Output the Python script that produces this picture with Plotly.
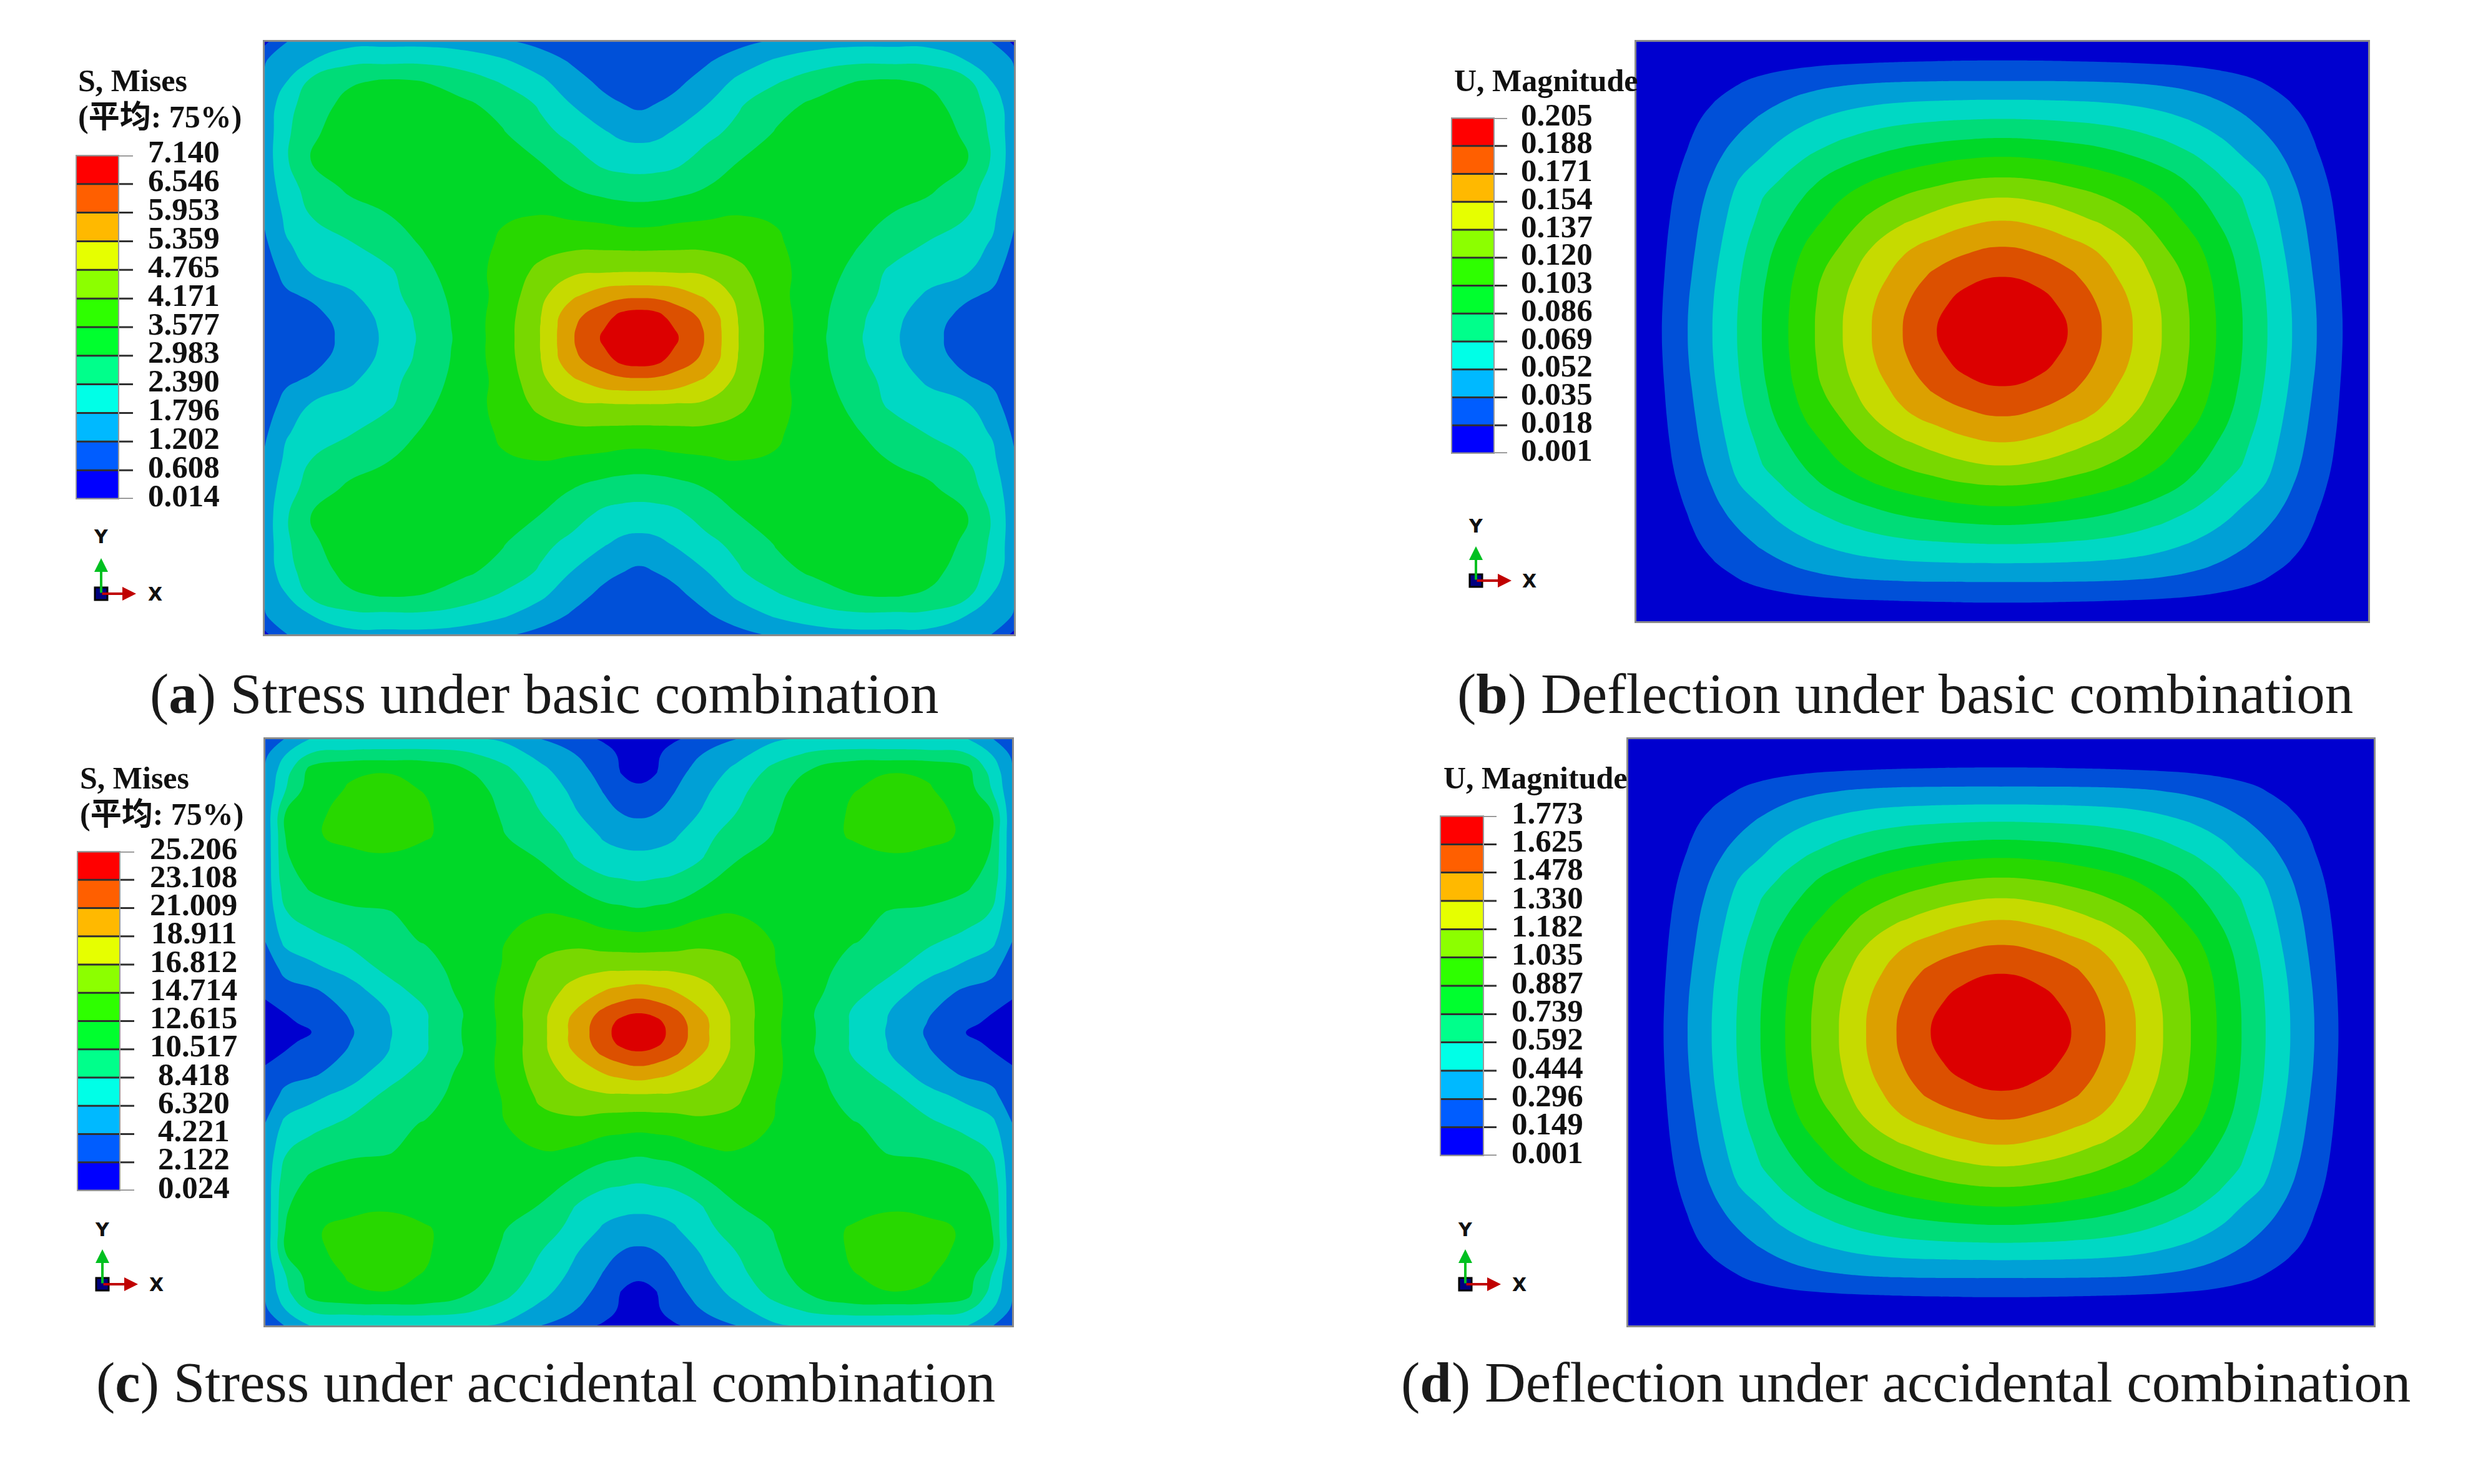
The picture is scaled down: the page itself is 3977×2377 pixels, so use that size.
import numpy as np
import plotly.graph_objects as go

W, H = 3977, 2377

# legend levels (top to bottom in the picture, stored low to high)
A_LEVELS = [0.014, 0.608, 1.202, 1.796, 2.390, 2.983, 3.577, 4.171, 4.765, 5.359, 5.953, 6.546, 7.140]
B_LEVELS = [0.001, 0.018, 0.035, 0.052, 0.069, 0.086, 0.103, 0.120, 0.137, 0.154, 0.171, 0.188, 0.205]
C_LEVELS = [0.024, 2.122, 4.221, 6.320, 8.418, 10.517, 12.615, 14.714, 16.812, 18.911, 21.009, 23.108, 25.206]
D_LEVELS = [0.001, 0.149, 0.296, 0.444, 0.592, 0.739, 0.887, 1.035, 1.182, 1.330, 1.478, 1.625, 1.773]
A_LABELS = ["0.014","0.608","1.202","1.796","2.390","2.983","3.577","4.171","4.765","5.359","5.953","6.546","7.140"]
B_LABELS = ["0.001","0.018","0.035","0.052","0.069","0.086","0.103","0.120","0.137","0.154","0.171","0.188","0.205"]
C_LABELS = ["0.024","2.122","4.221","6.320","8.418","10.517","12.615","14.714","16.812","18.911","21.009","23.108","25.206"]
D_LABELS = ["0.001","0.149","0.296","0.444","0.592","0.739","0.887","1.035","1.182","1.330","1.478","1.625","1.773"]

LEGEND_COLORS = ["#0000FF","#005DFF","#00B9FF","#00FFE7","#00FF8B","#00FF2E","#2EFF00","#8CFF00","#E6FF00","#FFB900","#FF5F00","#FF0000"]
FIELD_COLORS = ["#0000CF","#0050D8","#00A0D6","#00D8C4","#00DC78","#00D828","#28D800","#78D800","#C6DA00","#DCA000","#DC5000","#DC0000"]

# Field, top-left quarter, in legend band units (0 = lowest label, 12 = highest).
A_XN = [337,370,410,470,530,590,650,710,770,820,870,898,925]
A_YN = [43,90,140,200,270,340,410,480,550,620,680,730,760,787]
A_GRID = [
 [0.80,2.00,2.50,2.70,2.75,2.75,2.60,2.20,1.75,1.55,1.40,1.32,1.30],
 [1.95,2.75,3.00,3.75,3.80,3.80,3.55,3.15,2.50,1.90,1.60,1.56,1.55],
 [2.20,2.95,4.20,4.90,5.10,5.00,4.50,3.90,3.20,2.40,1.75,1.65,1.60],
 [2.40,3.60,4.60,5.30,5.40,5.35,5.20,4.70,3.90,3.00,2.30,2.05,1.85],
 [2.45,3.80,4.90,5.40,5.50,5.50,5.40,5.10,4.30,3.75,3.10,2.80,2.70],
 [2.45,3.90,5.05,5.45,5.55,5.55,5.50,5.40,5.00,4.40,3.75,3.60,3.55],
 [2.45,3.50,4.50,5.20,5.45,5.55,5.65,5.70,5.60,5.05,4.65,4.55,4.50],
 [2.20,3.20,4.05,4.60,5.00,5.40,5.70,5.95,6.05,5.90,5.75,5.60,5.55],
 [1.85,2.95,3.35,3.95,4.60,5.15,5.60,6.15,6.60,6.75,6.75,6.72,6.70],
 [1.60,2.30,3.10,3.50,3.85,4.85,5.55,6.35,7.30,7.85,7.95,8.00,8.00],
 [1.45,1.90,2.15,2.85,3.70,4.60,5.45,6.35,7.80,8.85,9.60,9.75,9.80],
 [1.32,1.50,1.78,2.42,3.40,4.40,5.40,6.50,8.00,9.75,10.60,11.30,11.50],
 [1.30,1.45,1.65,2.30,3.30,4.35,5.38,6.55,8.05,9.90,11.00,11.55,11.85],
 [1.30,1.42,1.60,2.30,3.25,4.30,5.35,6.55,8.05,9.95,11.20,11.75,12.30],
]
C_XN = [338,370,410,470,530,590,650,710,770,820,870,898,925]
C_YN = [22,60,100,150,210,270,330,400,470,540,610,670,725,750,775]
C_GRID = [
 [1.30,2.10,3.10,3.30,3.35,3.35,3.25,2.90,2.05,1.50,0.90,0.70,0.60],
 [1.85,3.00,4.10,4.30,4.35,4.35,4.20,3.65,2.70,2.10,1.45,0.85,0.75],
 [2.15,3.60,5.35,5.90,6.00,5.85,5.10,4.30,3.30,2.40,1.70,0.95,0.85],
 [2.25,4.00,5.60,6.10,6.15,6.00,5.50,4.75,3.70,2.85,1.95,1.30,1.10],
 [2.30,5.05,5.90,6.20,6.25,6.10,5.65,4.95,4.05,3.20,2.35,2.00,1.85],
 [2.30,5.05,5.95,6.20,6.25,6.10,5.70,5.10,4.50,3.80,2.90,2.65,2.55],
 [2.30,4.95,5.40,5.85,5.95,5.75,5.65,5.45,5.00,4.10,3.50,3.35,3.30],
 [2.35,4.60,5.15,5.45,5.55,5.60,5.65,5.70,5.55,5.05,4.40,4.30,4.20],
 [2.30,3.95,4.55,4.85,4.95,5.40,5.70,5.95,6.00,5.90,5.50,5.35,5.25],
 [2.05,3.30,3.65,4.25,4.75,5.10,5.65,5.95,6.70,6.75,6.50,6.45,6.40],
 [1.55,2.30,2.80,3.40,4.30,4.65,5.45,6.05,7.20,7.70,7.85,7.85,7.85],
 [1.20,1.70,1.85,2.55,3.55,4.45,5.25,6.20,7.55,8.30,9.05,9.35,9.55],
 [0.75,1.05,1.50,2.10,3.00,3.95,5.05,6.25,7.70,9.00,10.30,10.80,11.00],
 [0.68,0.90,1.20,2.00,2.95,3.95,5.08,6.20,7.70,9.20,10.60,11.30,11.70],
 [0.60,0.80,1.00,1.90,2.90,3.95,5.10,6.20,7.70,9.20,10.70,11.45,12.30],
]
B_XN = [325,365,407,447,487,527,570,613,658,705,755,810,860,918]
B_YN = [43,88,140,187,235,283,330,382,432,490,555,630,700,770]
B_GRID = [
 [0,0,0,0,0,0,0,0,0,0,0,0,0,0],
 [0,0.10,0.20,0.30,0.41,0.52,0.63,0.73,0.81,0.87,0.92,0.96,0.99,1.00],
 [0,0.21,0.42,0.66,0.92,1.19,1.44,1.65,1.80,1.90,1.96,1.99,2.00,2.00],
 [0,0.30,0.62,0.95,1.31,1.67,2.02,2.33,2.58,2.76,2.88,2.95,2.99,3.00],
 [0,0.39,0.78,1.22,1.68,2.13,2.57,2.96,3.28,3.55,3.75,3.88,3.96,4.00],
 [0,0.48,0.93,1.47,2.05,2.62,3.10,3.55,3.96,4.30,4.58,4.78,4.92,5.00],
 [0,0.55,1.08,1.74,2.45,3.00,3.65,4.15,4.62,5.03,5.40,5.70,5.90,6.00],
 [0,0.62,1.25,2.03,2.92,3.50,4.15,4.82,5.38,5.88,6.28,6.62,6.88,7.00],
 [0,0.69,1.42,2.27,3.20,3.97,4.62,5.30,5.98,6.55,7.05,7.48,7.82,8.00],
 [0,0.76,1.57,2.47,3.42,4.22,5.02,5.80,6.52,7.25,7.85,8.38,8.78,9.00],
 [0,0.84,1.70,2.65,3.64,4.55,5.50,6.35,7.08,7.98,8.80,9.32,9.75,10.00],
 [0,0.91,1.84,2.84,3.84,4.82,5.80,6.78,7.65,8.55,9.40,10.25,10.78,11.00],
 [0,0.97,1.96,2.96,3.96,4.96,5.95,6.95,7.92,8.90,9.85,10.78,11.38,11.75],
 [0,1.00,2.00,3.00,4.00,5.00,6.00,7.00,8.00,9.00,10.00,11.00,11.80,12.30],
]
D_XN = [332,388,427,466,506,545,585,627,672,716,765,820,875,936]
D_YN = [22,93,142,188,232,278,325,375,428,483,547,620,695,773]
D_GRID = [
 [0,0,0,0,0,0,0,0,0,0,0,0,0,0],
 [0,0.10,0.20,0.30,0.41,0.52,0.63,0.73,0.81,0.87,0.92,0.96,0.99,1.00],
 [0,0.21,0.42,0.66,0.92,1.19,1.44,1.65,1.80,1.90,1.96,1.99,2.00,2.00],
 [0,0.30,0.62,0.95,1.31,1.67,2.02,2.33,2.58,2.76,2.88,2.95,2.99,3.00],
 [0,0.39,0.78,1.22,1.68,2.13,2.57,2.96,3.28,3.55,3.75,3.88,3.96,4.00],
 [0,0.48,0.93,1.47,2.05,2.62,3.10,3.55,3.96,4.30,4.58,4.78,4.92,5.00],
 [0,0.55,1.08,1.74,2.45,3.00,3.65,4.15,4.62,5.03,5.40,5.70,5.90,6.00],
 [0,0.62,1.25,2.03,2.92,3.50,4.15,4.82,5.38,5.88,6.28,6.62,6.88,7.00],
 [0,0.69,1.42,2.27,3.20,3.97,4.62,5.30,5.98,6.55,7.05,7.48,7.82,8.00],
 [0,0.76,1.57,2.47,3.42,4.22,5.02,5.80,6.52,7.25,7.85,8.38,8.78,9.00],
 [0,0.84,1.70,2.65,3.64,4.55,5.50,6.35,7.08,7.98,8.80,9.32,9.75,10.00],
 [0,0.91,1.84,2.84,3.84,4.82,5.80,6.78,7.65,8.55,9.40,10.25,10.78,11.00],
 [0,0.97,1.96,2.96,3.96,4.96,5.95,6.95,7.92,8.90,9.85,10.78,11.38,11.75],
 [0,1.00,2.00,3.00,4.00,5.00,6.00,7.00,8.00,9.00,10.00,11.00,11.80,12.30],
]

CAPTION_A = "(<b>a</b>) Stress under basic combination"
CAPTION_B = "(<b>b</b>) Deflection under basic combination"
CAPTION_C = "(<b>c</b>) Stress under accidental combination"
CAPTION_D = "(<b>d</b>) Deflection under accidental combination"
HEAD_S = ["S, Mises", "(平均: 75%)"]
HEAD_U = ["U, Magnitude"]

SERIF = "Liberation Serif, Noto Sans CJK SC, serif"
SANS = "DejaVu Sans, sans-serif"

def px(x): return x / W
def py(y): return 1 - y / H

def mirror(nodes, grid, levels):
    nodes_x, nodes_y = nodes
    g = np.array(grid, float)
    full = np.hstack([g, g[:, -2::-1]])
    full = np.vstack([full, full[-2::-1, :]])
    xs = np.array(nodes_x, float); ys = np.array(nodes_y, float)
    xf = np.concatenate([xs, 2 * xs[-1] - xs[-2::-1]])
    yf = np.concatenate([ys, 2 * ys[-1] - ys[-2::-1]])
    lo, hi = levels[0], levels[-1]
    return xf, yf, lo + full * (hi - lo) / 12

PANELS = [
 dict(grid=A_GRID, xn=A_XN, yn=A_YN, levels=A_LEVELS, labels=A_LABELS, box=(424,67,1624,1016),
      bar=(122,249,190,799), tick=213, lab=294, head=HEAD_S, headx=123, heady=[129,187],
      triad=(162,951,894,218), ylab=859, xlab=249, cap=CAPTION_A, capx=872, capy=1111),
 dict(grid=B_GRID, xn=B_XN, yn=B_YN, levels=B_LEVELS, labels=B_LABELS, box=(2621,67,3793,995),
      bar=(2325,189,2393,726), tick=2414, lab=2493, head=HEAD_U, headx=2327, heady=[129],
      triad=(2364,930,875,2421), ylab=842, xlab=2449, cap=CAPTION_B, capx=3051, capy=1111),
 dict(grid=C_GRID, xn=C_XN, yn=C_YN, levels=C_LEVELS, labels=C_LABELS, box=(425,1184,1621,2123),
      bar=(124,1364,192,1907), tick=215, lab=310, head=HEAD_S, headx=126, heady=[1246,1304],
      triad=(164,2057,2001,221), ylab=1969, xlab=250, cap=CAPTION_C, capx=874, capy=2214),
 dict(grid=D_GRID, xn=D_XN, yn=D_YN, levels=D_LEVELS, labels=D_LABELS, box=(2608,1184,3802,2123),
      bar=(2307,1307,2376,1851), tick=2397, lab=2478, head=HEAD_U, headx=2310, heady=[1246],
      triad=(2347,2057,2001,2404), ylab=1969, xlab=2433, cap=CAPTION_D, capx=3052, capy=2214),
]

fig = go.Figure()
layout = dict(width=W, height=H, margin=dict(l=0, r=0, t=0, b=0), paper_bgcolor="white",
              plot_bgcolor="white", showlegend=False)
shapes, annos = [], []

def discrete(colors):
    n = len(colors); out = []
    for i, c in enumerate(colors):
        out += [[i / n, c], [(i + 1) / n, c]]
    return out

for i, p in enumerate(PANELS):
    xf, yf, zf = mirror((p["xn"], p["yn"]), p["grid"], p["levels"])
    lv = p["levels"]
    ax1, ax2 = 2 * i + 1, 2 * i + 2
    xa, ya = f"x{ax1}", f"y{ax1}"
    xb, yb = f"x{ax2}", f"y{ax2}"
    x0, y0, x1, y1 = p["box"]
    step = (lv[-1] - lv[0]) / 12
    nudge = 0.03 * step  # keeps contour levels off the grid nodes, which otherwise spike under smoothing
    # the fill colour of a band is looked up at its upper level: centre that on the colour's stop
    fig.add_trace(go.Contour(x=xf, y=yf, z=zf, xaxis=xa, yaxis=ya, showscale=False, hoverinfo="skip",
        autocontour=False, contours=dict(start=lv[0] + nudge, end=lv[-1] + nudge, size=step, coloring="fill", showlines=False),
        line=dict(width=0, smoothing=1.3), zmin=lv[0] + nudge + step / 2, zmax=lv[-1] + nudge + step / 2,
        colorscale=discrete(FIELD_COLORS)))
    layout[f"xaxis{ax1}"] = dict(domain=[px(x0), px(x1)], range=[xf[0], xf[-1]], anchor=ya, showticklabels=False,
        ticks="", showgrid=False, zeroline=False, showline=True, mirror=True, linecolor="#8a8a8a", linewidth=3)
    layout[f"yaxis{ax1}"] = dict(domain=[py(y1), py(y0)], range=[yf[-1], yf[0]], anchor=xa, showticklabels=False,
        ticks="", showgrid=False, zeroline=False, showline=True, mirror=True, linecolor="#8a8a8a", linewidth=3)

    bx0, by0, bx1, by1 = p["bar"]
    fig.add_trace(go.Heatmap(x=[0, 1], y=lv, z=[[k] for k in range(12)], xaxis=xb, yaxis=yb, showscale=False,
        hoverinfo="skip", zmin=-0.5, zmax=11.5, colorscale=discrete(LEGEND_COLORS)))
    layout[f"xaxis{ax2}"] = dict(domain=[px(bx0), px(bx1)], range=[0, 1], anchor=yb, showticklabels=False, ticks="",
        showgrid=False, zeroline=False, showline=False)
    layout[f"yaxis{ax2}"] = dict(domain=[py(by1), py(by0)], range=[lv[0], lv[-1]], anchor=xb, showticklabels=False, ticks="",
        showgrid=False, zeroline=False, showline=False)
    xmax = (p["tick"] - bx0) / (bx1 - bx0)
    for k, (v, t) in enumerate(zip(lv, p["labels"])):
        shapes.append(dict(type="line", xref=f"{xb} domain", yref=yb, x0=0, x1=xmax, y0=v, y1=v,
                           line=dict(color="#7d7d7d" if k in (0, 12) else "#303030", width=3)))
        annos.append(dict(xref="paper", yref=yb, x=px(p["lab"]), y=v, yshift=6, text=f"<b>{t}</b>", showarrow=False,
                          xanchor="center", yanchor="middle", height=45, font=dict(family=SERIF, size=51, color="#111")))
    shapes.append(dict(type="rect", xref="paper", yref="paper", x0=px(bx0), x1=px(bx1), y0=py(by1), y1=py(by0),
                       line=dict(color="#9a9a9a", width=2)))
    for t, yy in zip(p["head"], p["heady"]):
        annos.append(dict(xref="paper", yref="paper", x=px(p["headx"]), y=py(yy), text=f"<b>{t}</b>", showarrow=False,
                          xanchor="left", yanchor="middle", font=dict(family=SERIF, size=50, color="#111")))
    annos.append(dict(xref="paper", yref="paper", x=px(p["capx"]), y=py(p["capy"]), text=p["cap"], showarrow=False,
                      xanchor="center", yanchor="middle", font=dict(family=SERIF, size=91, color="#1a1a1a")))
    # orientation triad
    ox, oy, ytip, xtip = p["triad"]
    annos.append(dict(xref="paper", yref="paper", x=px(ox), y=py(ytip), axref="pixel", ayref="pixel", ax=0, ay=oy - ytip,
                      text="", showarrow=True, arrowhead=2, arrowsize=1.1, arrowwidth=4, arrowcolor="#00C020"))
    annos.append(dict(xref="paper", yref="paper", x=px(xtip), y=py(oy), axref="pixel", ayref="pixel", ax=ox - xtip, ay=0,
                      text="", showarrow=True, arrowhead=2, arrowsize=1.1, arrowwidth=4, arrowcolor="#C00000"))
    shapes.append(dict(type="rect", xref="paper", yref="paper", x0=px(ox - 10), x1=px(ox + 10), y0=py(oy + 10), y1=py(oy - 10),
                       fillcolor="#000080", line=dict(color="black", width=3)))
    annos.append(dict(xref="paper", yref="paper", x=px(ox), y=py(p["ylab"]), text="<b>Y</b>", showarrow=False,
                      xanchor="center", yanchor="middle", font=dict(family=SANS, size=30, color="#111")))
    annos.append(dict(xref="paper", yref="paper", x=px(p["xlab"]), y=py(oy), text="<b>X</b>", showarrow=False,
                      xanchor="center", yanchor="middle", font=dict(family=SANS, size=30, color="#111")))

layout["shapes"] = shapes
layout["annotations"] = annos
fig.update_layout(**layout)
fig.write_html("out.html", config=dict(displayModeBar=False),
               post_script="document.body.style.margin='0';document.body.style.overflow='hidden';")
